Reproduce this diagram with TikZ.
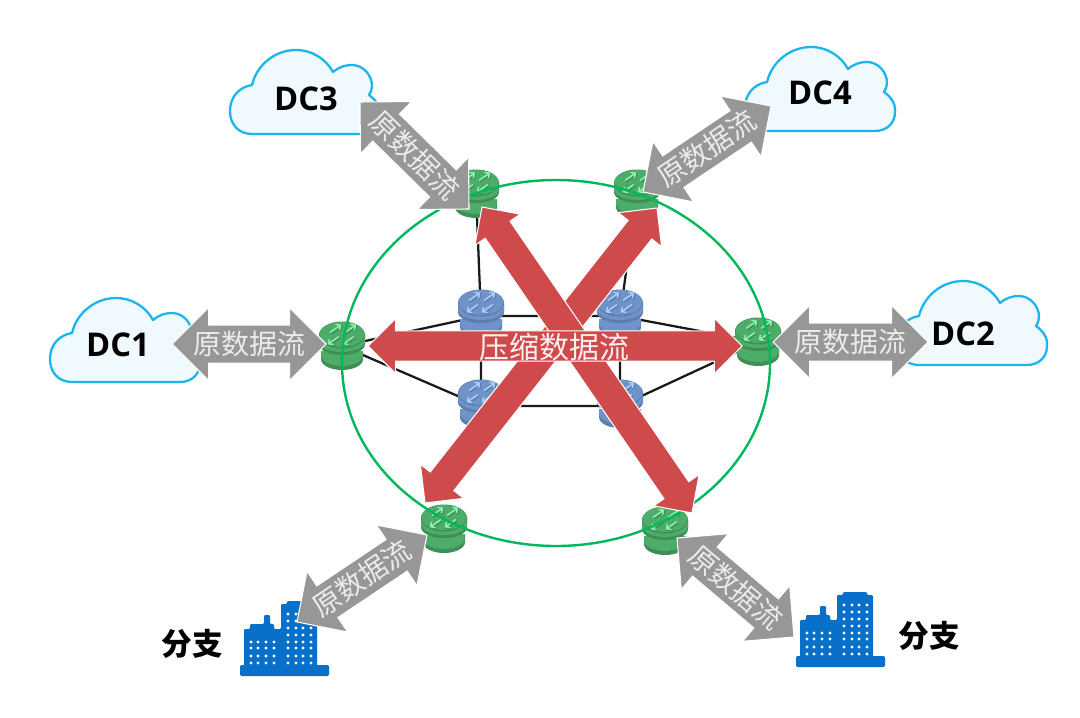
\documentclass[tikz,border=0pt]{standalone}
\usepackage{fontspec}
\setmainfont{Open Sans}
\newfontfamily\cjk{Noto Sans CJK SC}
\usetikzlibrary{shapes.arrows}
\definecolor{cloudline}{HTML}{19B5EC}
\definecolor{cloudfill}{HTML}{F0F9FE}
\definecolor{ringc}{HTML}{00B85C}
\definecolor{redc}{HTML}{CF4A4B}
\definecolor{grayc}{HTML}{979797}
\definecolor{bldg}{HTML}{0870C8}
\definecolor{gA}{HTML}{4CAC68}\definecolor{gB}{HTML}{3D8F55}\definecolor{gC}{HTML}{8CF0B0}
\definecolor{bA}{HTML}{6F93C8}\definecolor{bB}{HTML}{5B7DB0}\definecolor{bC}{HTML}{A9CDF5}
\def\px{0.75pt}
\newcommand{\graytext}[1]{\rule[-13.875pt]{0pt}{27.75pt}\raisebox{-7.6pt}{#1}}
\newcommand{\redfill}{\rule[-10.9pt]{0pt}{21.8pt}}
\tikzset{
  x=0.75pt,y=-0.75pt,
  fatgray/.style={shape=double arrow,fill=grayc,draw=white,line width=0.8pt,inner sep=0pt,outer sep=0pt,
    double arrow head extend=17.5*\px,double arrow tip angle=90,text=white!92!black,
    font=\cjk\fontsize{21}{24}\selectfont},
  fatred/.style={shape=double arrow,fill=redc,draw=white,line width=0.8pt,inner sep=0pt,outer sep=0pt,
    double arrow head extend=12.5*\px,double arrow tip angle=90},
  cloudshape/.style={draw=cloudline,fill=cloudfill,line width=1.7pt,line join=round},
  dclabel/.style={font=\bfseries\fontsize{24.5}{28}\selectfont,text=black,inner sep=0pt},
  branchlabel/.style={font=\cjk\bfseries\fontsize{23}{27}\selectfont,text=black,inner sep=0pt},
  link/.style={draw=black!90,line width=1.7pt},
  ringline/.style={draw=ringc,line width=1.8pt},
  win/.style={fill=white},
}
% fat double arrow between two tips
\newcommand{\fatarrow}[7]{%
  \pgfmathsetmacro{\fl}{veclen(#5-#3,#6-#4)}%
  \pgfmathsetmacro{\fa}{atan2(-(#6-#4),#5-#3)}%
  \pgfmathsetmacro{\fx}{(#3+#5)/2}%
  \pgfmathsetmacro{\fy}{(#4+#6)/2}%
  \node[#1,minimum height=\fl*\px,rotate=\fa] (#2) at (\fx,\fy) {#7};}
% cloud, origin at top-left of its box
\newcommand{\cloudat}[2]{%
  \path[cloudshape,shift={(#1,#2)}] (130,84) -- (22,84) .. controls (8,84) and (0,74) .. (0,61)
   .. controls (0,47) and (9,37) .. (22,35) .. controls (27,14) and (46,0) .. (66,0)
   .. controls (82,0) and (96,9) .. (103,22) .. controls (109,17) and (115,15) .. (122,15)
   .. controls (133,15) and (142,25) .. (142,36) .. controls (142,39) and (141,42) .. (139,45)
   .. controls (146,50) and (151,57) .. (150,65) .. controls (150,76) and (142,84) .. (130,84) -- cycle;}
% building, origin at left end of the tower top line
\newcommand{\buildingat}[2]{%
 \begin{scope}[shift={(#1,#2)}]
  \fill[bldg,rounded corners=1pt] (0,64) rectangle (89,75);
  \fill[bldg,rounded corners=0.8pt] (4,67) -- (4,28) -- (10,28) -- (10,23) -- (24,23) -- (24,14) -- (30,14) -- (30,23) -- (34,23) -- (34,28) -- (41,28) -- (41,3) -- (47,3) -- (47,0) -- (71,0) -- (71,3) -- (77,3) -- (77,67) -- cycle;
  \foreach \x in {11,18,26,34}\foreach \y in {41,47,55,62}{\fill[win] (\x,\y) circle [radius=1.7];}
  \foreach \x in {48,56,63,71}\foreach \y in {13,20,27,34,41,47,55,62}{\fill[win] (\x,\y) circle [radius=1.7];}
 \end{scope}}
% router icon
\newcommand{\router}[6]{%
  \begin{scope}[shift={(#2,#3)}]
   \coordinate (#1) at (0,0);
   \fill[#5] (-21,6) -- (-21,13) .. controls (-21,20) and (-10,24) .. (0,24) .. controls (10,24) and (21,20) .. (21,13) -- (21,6) -- cycle;
   \fill[#4] (-21,5) -- (-21,9) .. controls (-21,16) and (-10,20) .. (0,20) .. controls (10,20) and (21,16) .. (21,9) -- (21,5) -- cycle;
   \fill[#5] (-23,-11) -- (-23,-2) .. controls (-23,5) and (-11,9) .. (0,9) .. controls (11,9) and (23,5) .. (23,-2) -- (23,-11) -- cycle;
   \fill[#4] (-23,-11) -- (-23,-5) .. controls (-23,2) and (-11,6) .. (0,6) .. controls (11,6) and (23,2) .. (23,-5) -- (23,-11) -- cycle;
   \fill[#5] (0,-11) ellipse [x radius=23,y radius=13.5];
   \fill[#4] (0,-11.5) ellipse [x radius=22.5,y radius=12.5];
   \foreach \dx/\dy/\rot in {-7/-17/35,8/-17/35,-8/-6/215,7/-6/215}{
     \draw[#5,line width=1.8pt,shift={(\dx+.8,\dy+1)},rotate=\rot] (-6,0) -- (6,0) (3,-3.5) -- (6.5,0) -- (3,3.5);
     \draw[#6,line width=1.2pt,shift={(\dx,\dy)},rotate=\rot] (-6,0) -- (6,0) (3,-3.5) -- (6.5,0) -- (3,3.5);
   }
  \end{scope}}
\begin{document}
\begin{tikzpicture}
\useasboundingbox[fill=white] (0,0) rectangle (1080,717);
% clouds
\cloudat{50}{298}\cloudat{230}{50}\cloudat{745}{47}\cloudat{897}{281}
\node[dclabel] (dc1) at (118,345) {DC1};
\node[dclabel] (dc2) at (963,334) {DC2};
\node[dclabel] (dc3) at (306,99) {DC3};
\node[dclabel] (dc4) at (820,93) {DC4};
% buildings
\buildingat{240}{601}
\buildingat{796}{592}
\node[branchlabel] (b1) at (192,644) {分支};
\node[branchlabel] (b2) at (929,636) {分支};
% anchors of the links
\coordinate (ul) at (481,316);\coordinate (ur) at (620,316);
\coordinate (ll) at (481,406);\coordinate (lr) at (620,406);
\coordinate (gl) at (342,346);\coordinate (gr) at (758,342);
\coordinate (gtl) at (476,192);\coordinate (gtr) at (637,192);
\draw[link] (ul)--(ur) (ll)--(lr) (ul)--(ll) (ur)--(lr)
  (gl)--(ul) (gl)--(ll) (gr)--(ur) (gr)--(lr) (gtl)--(ul) (gtr)--(ur);
% routers
\router{rul}{481}{314}{bA}{bB}{bC}
\router{rur}{620}{314}{bA}{bB}{bC}
\router{rll}{481}{404}{bA}{bB}{bC}
\router{rlr}{620}{404}{bA}{bB}{bC}
\router{gr1}{342}{346}{gA}{gB}{gC}
\router{gr2}{758}{342}{gA}{gB}{gC}
\router{gr3}{476}{194}{gA}{gB}{gC}
\router{gr4}{637}{194}{gA}{gB}{gC}
\router{gr5}{444}{529}{gA}{gB}{gC}
\router{gr6}{665}{531}{gA}{gB}{gC}
% ring
\draw[ringline] (556,363) ellipse [x radius=214,y radius=183];
% red arrows
\fatarrow{fatred}{ra}{425}{503}{657}{208}{\redfill}
\fatarrow{fatred}{rb}{482}{207}{692}{513}{\redfill}
\fatarrow{fatred}{rc}{368}{346}{742}{346}{\redfill}
\node[inner sep=0pt,text=white!92!redc,font=\cjk\fontsize{22.5}{26}\selectfont] (rt) at (554,347) {压缩数据流};
% gray arrows
\fatarrow{fatgray}{g1}{172}{344}{326}{344}{\graytext{原数据流}}
\fatarrow{fatgray}{g2}{773}{342}{928}{342}{\graytext{原数据流}}
\fatarrow{fatgray}{g3}{360}{102}{469}{209}{\graytext{原数据流}}
\fatarrow{fatgray}{g4}{643}{192}{771}{106}{\graytext{原数据流}}
\fatarrow{fatgray}{g5}{297}{622}{427}{535}{\graytext{原数据流}}
\fatarrow{fatgray}{g6}{677}{538}{794}{637}{\graytext{原数据流}}
\end{tikzpicture}
\end{document}
